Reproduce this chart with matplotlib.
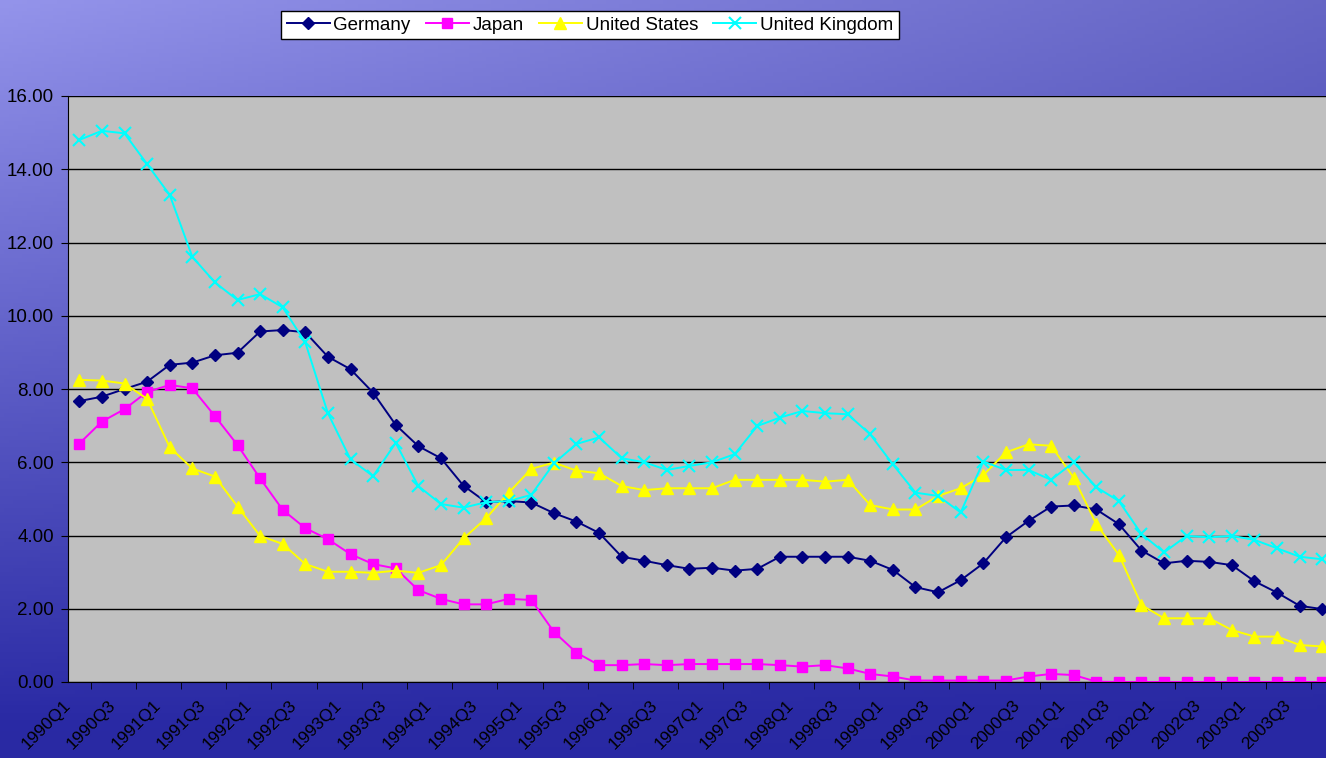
import matplotlib.pyplot as plt
import numpy as np

# quarterly rates, 1990Q1 .. 2003Q4
quarters = [f"{y}Q{q}" for y in range(1990, 2004) for q in range(1, 5)]

germany = [7.67, 7.79, 8.00, 8.20, 8.66, 8.72, 8.92, 8.99, 9.57, 9.61,
           9.55, 8.88, 8.54, 7.90, 7.02, 6.44, 6.11, 5.36, 4.91, 4.94,
           4.90, 4.61, 4.38, 4.07, 3.42, 3.31, 3.19, 3.09, 3.12, 3.04,
           3.09, 3.42, 3.42, 3.42, 3.42, 3.31, 3.06, 2.59, 2.45, 2.78,
           3.24, 3.95, 4.40, 4.79, 4.82, 4.71, 4.31, 3.59, 3.24, 3.31,
           3.28, 3.19, 2.75, 2.44, 2.08, 1.99]
japan = [6.51, 7.11, 7.45, 7.92, 8.11, 8.02, 7.26, 6.47, 5.56, 4.70,
         4.20, 3.90, 3.49, 3.22, 3.10, 2.51, 2.27, 2.12, 2.12, 2.27,
         2.24, 1.37, 0.80, 0.46, 0.46, 0.49, 0.46, 0.49, 0.49, 0.49,
         0.49, 0.46, 0.42, 0.46, 0.37, 0.22, 0.15, 0.04, 0.04, 0.04,
         0.04, 0.04, 0.15, 0.22, 0.19, 0.01, 0.00, 0.00, 0.00, 0.00,
         0.00, 0.00, 0.00, 0.00, 0.00, 0.00]
united_states = [8.25, 8.23, 8.15, 7.73, 6.41, 5.83, 5.61, 4.79, 3.99, 3.77,
                 3.22, 3.01, 3.01, 2.98, 3.04, 2.98, 3.19, 3.92, 4.47, 5.17,
                 5.82, 5.99, 5.77, 5.70, 5.35, 5.24, 5.29, 5.29, 5.29, 5.52,
                 5.52, 5.52, 5.52, 5.47, 5.52, 4.83, 4.71, 4.71, 5.08, 5.29,
                 5.65, 6.27, 6.49, 6.45, 5.58, 4.31, 3.47, 2.10, 1.74, 1.74,
                 1.74, 1.42, 1.24, 1.24, 1.01, 0.97]
united_kingdom = [14.80, 15.05, 14.98, 14.14, 13.30, 11.61, 10.91, 10.43, 10.59, 10.23,
                  9.27, 7.34, 6.08, 5.62, 6.53, 5.35, 4.86, 4.76, 4.91, 4.94,
                  5.11, 5.97, 6.50, 6.68, 6.11, 6.00, 5.79, 5.90, 6.00, 6.22,
                  6.99, 7.22, 7.40, 7.34, 7.31, 6.76, 5.94, 5.17, 5.08, 4.63,
                  6.02, 5.79, 5.79, 5.52, 6.00, 5.32, 4.94, 4.04, 3.54, 3.99,
                  3.95, 3.99, 3.88, 3.65, 3.42, 3.35]

plt.rcParams['font.family'] = ['Liberation Sans', 'DejaVu Sans']

W, H = 1326, 758
fig = plt.figure(figsize=(W / 100, H / 100), dpi=100)

# blue slide background
bg = fig.add_axes([0, 0, 1, 1])
yy, xx = np.mgrid[0:1:200j, 0:1:300j]
top = np.array([0.48, 0.48, 0.82])
bottom = np.array([0.16, 0.16, 0.64])
t = np.clip(yy * 1.05 + 0.25 * xx * (1 - yy), 0, 1)[..., None]
img = top * (1 - t) + bottom * t
img = img + 0.10 * (1 - xx[..., None]) * (1 - yy[..., None])
bg.imshow(np.clip(img, 0, 1), aspect='auto', extent=[0, 1, 0, 1], origin='upper')
bg.axis('off')

n = len(quarters)
step = 22.6
ax = fig.add_axes([68 / W, 76 / H, n * step / W, 586 / H])
ax.set_facecolor('#c0c0c0')
x = np.arange(n)

ax.plot(x, germany, color='#000080', marker='D', ms=6, lw=1.4, label='Germany')
ax.plot(x, japan, color='#ff00ff', marker='s', ms=7, lw=1.4, label='Japan')
ax.plot(x, united_states, color='#ffff00', marker='^', ms=8, lw=1.4, label='United States')
ax.plot(x, united_kingdom, color='#00ffff', marker='x', ms=8, mew=1.5, lw=1.4, label='United Kingdom')

ax.set_yticks(np.arange(0, 17, 2))
ax.set_yticklabels([f"{v:.2f}" for v in np.arange(0, 17, 2)], fontsize=13.5)
ax.yaxis.grid(True, color='black', lw=1)
ax.set_axisbelow(True)

# category boundary ticks; labels anchored a bit left of each category centre
ax.set_xticks(np.arange(n + 1) - 0.5, minor=True)
ax.set_xticks(x[::2] - 0.5)
ax.set_xticklabels(quarters[::2], rotation=45, ha='right', va='center',
                   rotation_mode='anchor', fontsize=12.5)
ax.tick_params(axis='x', which='major', length=0, pad=15)
ax.tick_params(axis='x', which='minor', length=5, direction='out')
ax.tick_params(axis='y', length=5, direction='out', pad=5)
ax.set_xlim(-0.5, n - 0.5)
ax.set_ylim(0, 16)
for s in ['top', 'right']:
    ax.spines[s].set_visible(False)
ax.spines['left'].set_color('black')
ax.spines['bottom'].set_color('black')

leg = fig.legend(loc='upper left', bbox_to_anchor=(281 / W, 1 - 11 / H), ncol=4,
                 fontsize=13.5, frameon=True, fancybox=False, edgecolor='black',
                 framealpha=1, handlelength=2.3, handletextpad=0.2, columnspacing=0.8,
                 borderpad=0.3, borderaxespad=0)
leg.get_frame().set_linewidth(1)

plt.savefig('out.png', dpi=100)
